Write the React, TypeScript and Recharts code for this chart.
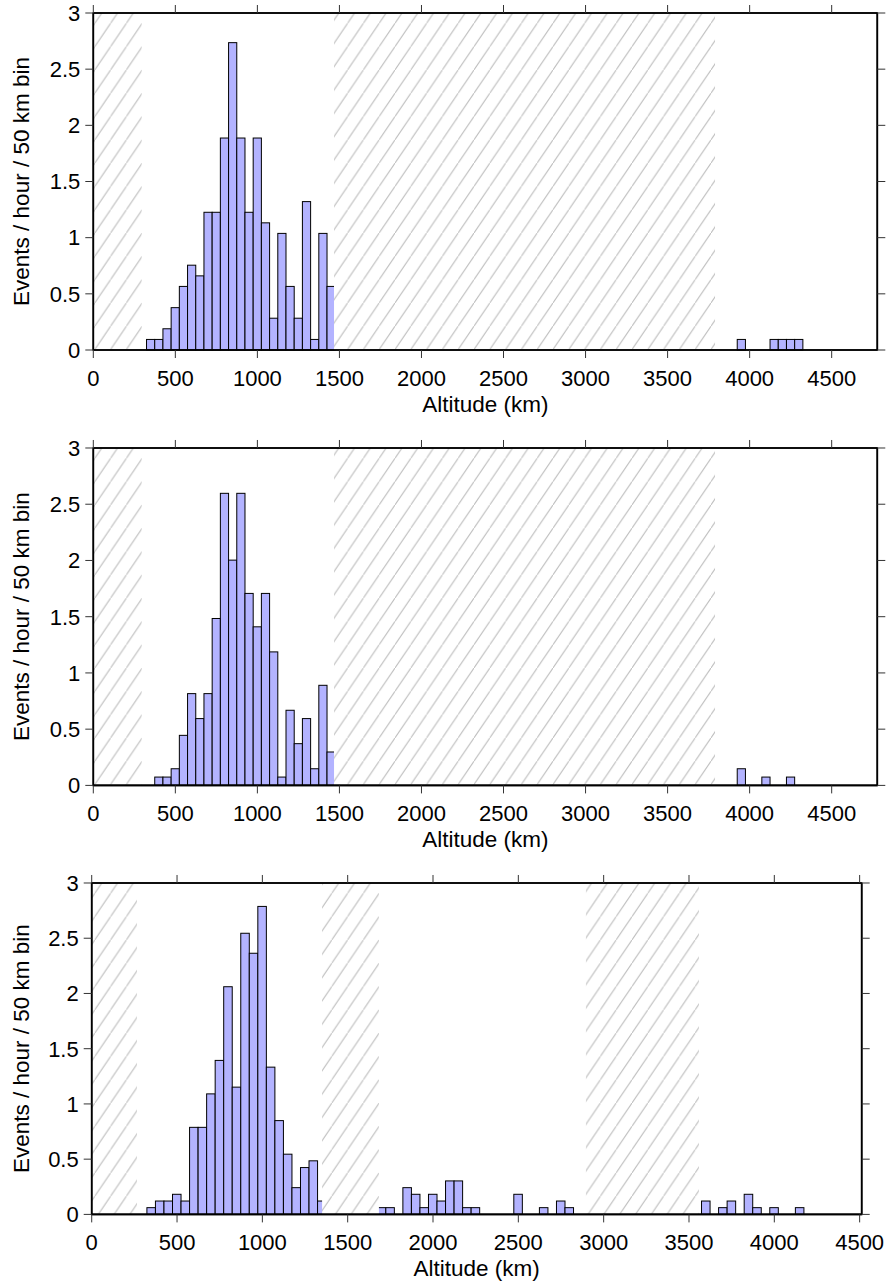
import React from "react"
import { Bar, ComposedChart, Line, ReferenceArea, XAxis, YAxis } from "recharts"

// altitude histograms, 50 km bins; values are events / hour per bin
const BIN_KM = 50
const X_TICKS = [0, 500, 1000, 1500, 2000, 2500, 3000, 3500, 4000, 4500]
const Y_TICKS = [0, 0.5, 1, 1.5, 2, 2.5, 3]

const TOP_ALT = [
  350, 400, 450, 500, 550, 600, 650, 700, 750, 800, 850, 900, 950, 1000, 1050, 1100, 1150, 1200,
  1250, 1300, 1350, 1400, 1450, 3950, 4150, 4200, 4250, 4300,
]
const TOP_RATE = [
  0.094, 0.094, 0.189, 0.377, 0.566, 0.755, 0.66, 1.226, 1.226, 1.887, 2.736, 1.887, 1.226, 1.887,
  1.132, 0.283, 1.038, 0.566, 0.283, 1.321, 0.094, 1.038, 0.566, 0.094, 0.094, 0.094, 0.094, 0.094,
]
const TOP_GAPS: [number, number][] = [
  [0, 295],
  [1467, 3789],
]

const MID_ALT = [
  400, 450, 500, 550, 600, 650, 700, 750, 800, 850, 900, 950, 1000, 1050, 1100, 1150, 1200, 1250,
  1300, 1350, 1400, 1450, 3950, 4100, 4250,
]
const MID_RATE = [
  0.074, 0.074, 0.148, 0.445, 0.816, 0.594, 0.816, 1.484, 2.597, 2.003, 2.597, 1.707, 1.41, 1.707,
  1.187, 0.074, 0.668, 0.371, 0.594, 0.148, 0.89, 0.297, 0.148, 0.074, 0.074,
]
const MID_GAPS: [number, number][] = [
  [0, 295],
  [1467, 3789],
]

const BOT_ALT = [
  350, 400, 450, 500, 550, 600, 650, 700, 750, 800, 850, 900, 950, 1000, 1050, 1100, 1150, 1200,
  1250, 1300, 1350, 1700, 1750, 1850, 1900, 1950, 2000, 2050, 2100, 2150, 2200, 2250, 2500, 2650,
  2750, 2800, 3600, 3700, 3750, 3850, 3900, 4000, 4150,
]
const BOT_RATE = [
  0.061, 0.121, 0.121, 0.182, 0.121, 0.788, 0.788, 1.091, 1.394, 2.061, 1.152, 2.545, 2.364, 2.788,
  1.333, 0.849, 0.545, 0.242, 0.424, 0.485, 0.121, 0.061, 0.061, 0.242, 0.182, 0.061, 0.182, 0.121,
  0.303, 0.303, 0.061, 0.061, 0.182, 0.061, 0.121, 0.061, 0.121, 0.061, 0.121, 0.182, 0.061, 0.061,
  0.061,
]
const BOT_GAPS: [number, number][] = [
  [0, 265],
  [1350, 1683],
  [2896, 3558],
]

const FONT = "'Liberation Sans', Arial, sans-serif"
const BAR_FILL = "#b3b3ff"
const HATCH = "#bbbbbb"
const W = 891

type PanelProps = {
  id: string
  top: number
  alt: number[]
  rate: number[]
  gaps: [number, number][]
  xMax: number
  left: number
  right: number
  plotH: number
}

function Panel({ id, top, alt, rate, gaps, xMax, left, right, plotH }: PanelProps) {
  const rows = alt.map((a, i) => ({ alt: a, rate: rate[i] }))
  const plotW = W - left - right
  const binPx = (plotW * BIN_KM) / xMax
  const axisLine = { stroke: "#000", strokeWidth: 1.6 }
  const tickLine = { stroke: "#333", strokeWidth: 1 }
  const tickFont = { fontSize: 22, fontFamily: FONT, fill: "#000" }
  const none = () => <g />

  return (
    <div style={{ position: "absolute", left: 0, top }}>
      <ComposedChart width={W} height={13 + plotH + 72} data={rows} margin={{ top: 12, right: right - 1, bottom: 0, left: 0 }}>
        <defs>
          <pattern id={id} patternUnits="userSpaceOnUse" width={15.8} height={23.3}>
            <rect width={15.8} height={23.3} fill="#fff" />
            <line x1={-0.8} y1={24.5} x2={16.6} y2={-1.2} stroke={HATCH} strokeWidth={1} />
          </pattern>
        </defs>
        <XAxis
          xAxisId="b"
          type="number"
          dataKey="alt"
          domain={[0, xMax]}
          ticks={X_TICKS}
          allowDataOverflow
          height={72}
          tickSize={8}
          tickMargin={12}
          axisLine={axisLine}
          tickLine={tickLine}
          tick={tickFont}
          label={{
            content: () => (
              <text
                x={left + plotW / 2}
                y={13 + plotH + 61.7}
                textAnchor="middle"
                fontSize={22.5}
                fontFamily={FONT}
                fill="#000"
              >
                Altitude (km)
              </text>
            ),
          }}
        />
        <XAxis
          xAxisId="t"
          orientation="top"
          type="number"
          dataKey="alt"
          domain={[0, xMax]}
          ticks={X_TICKS}
          allowDataOverflow
          height={1}
          tickSize={8}
          axisLine={axisLine}
          tickLine={tickLine}
          tick={none}
        />
        <YAxis
          yAxisId="l"
          type="number"
          domain={[0, 3]}
          ticks={Y_TICKS}
          width={left}
          tickSize={8}
          tickMargin={5}
          axisLine={axisLine}
          tickLine={tickLine}
          tick={tickFont}
          label={{
            content: () => (
              <text
                transform={`translate(29, ${13 + plotH / 2}) rotate(-90)`}
                textAnchor="middle"
                fontSize={22.5}
                fontFamily={FONT}
                fill="#000"
              >
                Events / hour / 50 km bin
              </text>
            ),
          }}
        />
        <YAxis
          yAxisId="r"
          orientation="right"
          type="number"
          domain={[0, 3]}
          ticks={Y_TICKS}
          width={1}
          tickSize={8}
          axisLine={axisLine}
          tickLine={tickLine}
          tick={none}
        />
        <Bar
          xAxisId="b"
          yAxisId="l"
          dataKey="rate"
          barSize={2}
          isAnimationActive={false}
          shape={(p: any) => {
            const cx = p.x + p.width / 2
            return (
              <rect x={cx - binPx / 2} y={p.y} width={binPx} height={p.height} fill={BAR_FILL} stroke="#000" strokeWidth={1} />
            )
          }}
        />
        {/* invisible series so the mirrored top/right axes get drawn */}
        <Line
          xAxisId="t"
          yAxisId="r"
          dataKey="rate"
          stroke="none"
          dot={false}
          activeDot={false}
          isAnimationActive={false}
        />
        {gaps.map(([a, b], i) => (
          <ReferenceArea
            key={`gap-${i}`}
            xAxisId="b"
            yAxisId="l"
            x1={a}
            x2={b}
            y1={0}
            y2={3}
            fill={`url(#${id})`}
            fillOpacity={1}
            stroke="none"
            ifOverflow="hidden"
            zIndex={350}
          />
        ))}
        <ReferenceArea
          xAxisId="b"
          yAxisId="l"
          x1={0}
          x2={xMax}
          y1={0}
          y2={3}
          fill="none"
          stroke="#000"
          strokeWidth={1.6}
          ifOverflow="visible"
          zIndex={400}
        />
      </ComposedChart>
    </div>
  )
}

export default function App() {
  return (
    <div style={{ position: "absolute", left: 0, top: 0, width: W, height: 1288, background: "#fff" }}>
      <Panel id="hatch-top" top={0} alt={TOP_ALT} rate={TOP_RATE} gaps={TOP_GAPS} xMax={4778} left={93.3} right={13.7} plotH={337} />
      <Panel id="hatch-mid" top={435.3} alt={MID_ALT} rate={MID_RATE} gaps={MID_GAPS} xMax={4778} left={93.3} right={13.7} plotH={337.4} />
      <Panel id="hatch-bot" top={870.3} alt={BOT_ALT} rate={BOT_RATE} gaps={BOT_GAPS} xMax={4512} left={91.7} right={29.3} plotH={331.4} />
    </div>
  )
}
